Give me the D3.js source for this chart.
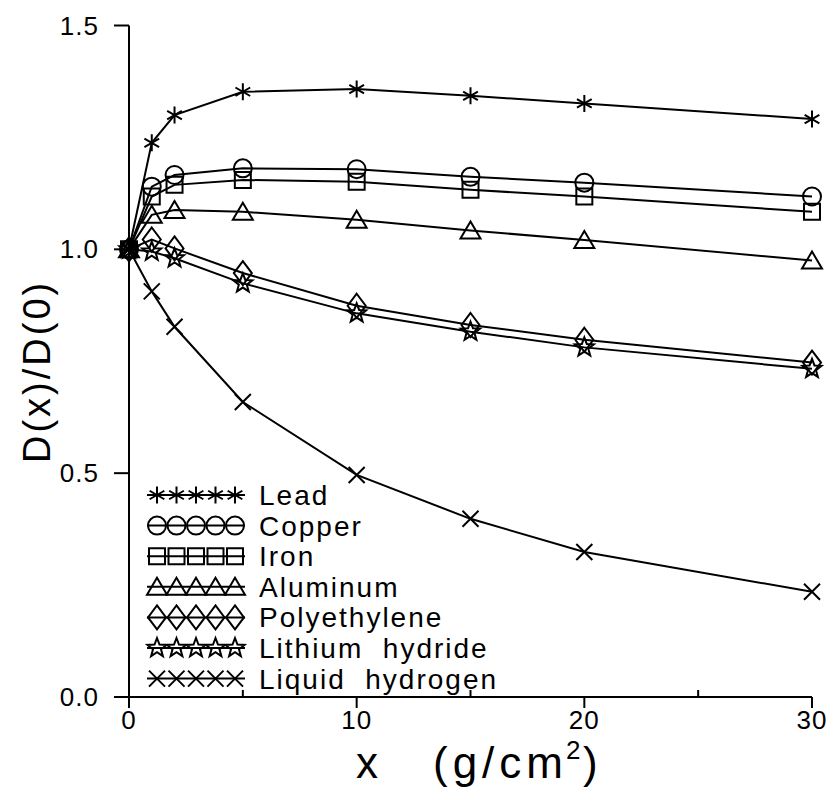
<!DOCTYPE html>
<html>
<head>
<meta charset="utf-8">
<script src="https://cdn.jsdelivr.net/npm/d3@7/dist/d3.min.js"></script>
<style>
  html, body { margin: 0; padding: 0; background: #fff; }
  svg { display: block; }
  text { font-family: "Liberation Sans", Arial, sans-serif; fill: #000; }
</style>
</head>
<body>
<svg id="chart" width="832" height="797"></svg>
<script>
// Depth x (g/cm^2) at which the dose ratio was evaluated
const depths = [0, 1, 2, 5, 10, 15, 20, 30];

// D(x)/D(0) for each shielding material
const lead          = [1.000, 1.238, 1.300, 1.352, 1.358, 1.343, 1.326, 1.291];
const copper        = [1.000, 1.140, 1.166, 1.181, 1.179, 1.162, 1.149, 1.118];
const iron          = [1.000, 1.118, 1.144, 1.155, 1.151, 1.133, 1.118, 1.084];
const aluminum      = [1.000, 1.077, 1.088, 1.084, 1.066, 1.042, 1.021, 0.975];
const polyethylene  = [1.000, 1.022, 1.002, 0.947, 0.874, 0.831, 0.798, 0.747];
const lithiumHydride= [1.000, 0.995, 0.980, 0.924, 0.857, 0.816, 0.781, 0.733];
const liquidHydrogen= [1.000, 0.906, 0.827, 0.659, 0.496, 0.398, 0.324, 0.235];

const seriesNames = ["Lead", "Copper", "Iron", "Aluminum", "Polyethylene", "Lithium  hydride", "Liquid  hydrogen"];
const seriesValues = [lead, copper, iron, aluminum, polyethylene, lithiumHydride, liquidHydrogen];
const markerKinds = ["asterisk", "circle", "square", "triangle", "diamond", "star", "times"];

const xMajorTicks = [0, 10, 20, 30];
const xMinorTicks = [5, 15, 25];
const yMajorTicks = [0.0, 0.5, 1.0, 1.5];

const svg = d3.select("#chart");
svg.append("rect").attr("width", 832).attr("height", 797).attr("fill", "#fff");

const x = d3.scaleLinear().domain([0, 30]).range([129, 812]);
const y = d3.scaleLinear().domain([0, 1.5]).range([697, 25.5]);

// Marker glyph outlines, centred on the origin
function markerPath(kind) {
  const p = d3.path();
  if (kind === "asterisk") {
    const r = 8.5;
    [90, 30, 150].forEach(a => {
      const t = a * Math.PI / 180;
      p.moveTo(-r * Math.cos(t), -r * Math.sin(t));
      p.lineTo(r * Math.cos(t), r * Math.sin(t));
    });
  } else if (kind === "circle") {
    p.moveTo(9, 0); p.arc(0, 0, 9, 0, 2 * Math.PI);
  } else if (kind === "square") {
    p.rect(-8, -8, 16, 16);
  } else if (kind === "triangle") {
    p.moveTo(0, -9); p.lineTo(10, 8); p.lineTo(-10, 8); p.closePath();
  } else if (kind === "diamond") {
    p.moveTo(0, -12); p.lineTo(9, 0); p.lineTo(0, 12); p.lineTo(-9, 0); p.closePath();
  } else if (kind === "star") {
    const ro = 10, ri = 4.2;
    for (let i = 0; i < 10; i++) {
      const r = i % 2 === 0 ? ro : ri;
      const t = -Math.PI / 2 + i * Math.PI / 5;
      if (i === 0) p.moveTo(r * Math.cos(t), r * Math.sin(t));
      else p.lineTo(r * Math.cos(t), r * Math.sin(t));
    }
    p.closePath();
  } else if (kind === "times") {
    const r = 8;
    p.moveTo(-r, -r); p.lineTo(r, r);
    p.moveTo(-r, r); p.lineTo(r, -r);
  }
  return p.toString();
}

// Axes
const axes = svg.append("g").attr("stroke", "#000").attr("stroke-width", 2).attr("fill", "none");
axes.append("line").attr("x1", x(0)).attr("x2", x(0)).attr("y1", y(1.5)).attr("y2", y(0));
axes.append("line").attr("x1", x(0)).attr("x2", x(30)).attr("y1", y(0)).attr("y2", y(0));
yMajorTicks.forEach(v => {
  axes.append("line").attr("x1", x(0) - 15).attr("x2", x(0)).attr("y1", y(v)).attr("y2", y(v));
});
xMajorTicks.forEach(v => {
  axes.append("line").attr("x1", x(v)).attr("x2", x(v)).attr("y1", y(0)).attr("y2", y(0) + 11);
});
xMinorTicks.forEach(v => {
  axes.append("line").attr("x1", x(v)).attr("x2", x(v)).attr("y1", y(0)).attr("y2", y(0) - 7);
});

// Tick labels
svg.append("g").selectAll("text").data(yMajorTicks).join("text")
  .attr("x", 99).attr("y", d => y(d) + 9)
  .attr("text-anchor", "end").attr("font-size", 26).attr("letter-spacing", 1)
  .text(d => d.toFixed(1));
svg.append("g").selectAll("text").data(xMajorTicks).join("text")
  .attr("x", d => x(d)).attr("y", 729)
  .attr("text-anchor", "middle").attr("font-size", 26).attr("letter-spacing", 1)
  .text(d => d);

// Axis titles
svg.append("text")
  .attr("transform", "translate(50,463) rotate(-90)")
  .attr("text-anchor", "start").attr("font-size", 38).attr("letter-spacing", 3)
  .text("D(x)/D(0)");

const xt = svg.append("text").attr("x", 356).attr("y", 778)
  .attr("font-size", 44).style("white-space", "pre");
xt.append("tspan").text("x");
xt.append("tspan").attr("x", 433).attr("letter-spacing", 5).text("(g/c");
xt.append("tspan").attr("letter-spacing", 0).text("m");
xt.append("tspan").attr("x", 566).attr("dy", -19).attr("font-size", 26).text("2");
xt.append("tspan").attr("x", 583).attr("dy", 19).text(")");

// Series lines and markers
const line = d3.line().x((d, i) => x(depths[i])).y(d => y(d));
seriesValues.forEach((vals, k) => {
  const g = svg.append("g").attr("stroke", "#000").attr("fill", "none").attr("stroke-width", 2);
  g.append("path").attr("d", line(vals));
  g.selectAll("path.m").data(vals).join("path").attr("class", "m")
    .attr("transform", (d, i) => `translate(${x(depths[i])},${y(d)})`)
    .attr("d", markerPath(markerKinds[k]));
});

// Legend
const legendTop = 495, legendStep = 30.6;
seriesNames.forEach((name, k) => {
  const cy = legendTop + k * legendStep;
  const g = svg.append("g").attr("stroke", "#000").attr("fill", "none").attr("stroke-width", 2);
  g.append("line").attr("x1", 147).attr("x2", 245).attr("y1", cy).attr("y2", cy);
  d3.range(5).forEach(j => {
    g.append("path").attr("transform", `translate(${157 + j * 19.5},${cy})`)
      .attr("d", markerPath(markerKinds[k]));
  });
  svg.append("text").attr("x", 259).attr("y", cy + 10)
    .attr("font-size", 28).attr("letter-spacing", 2).style("white-space", "pre")
    .text(name);
});
</script>
</body>
</html>
